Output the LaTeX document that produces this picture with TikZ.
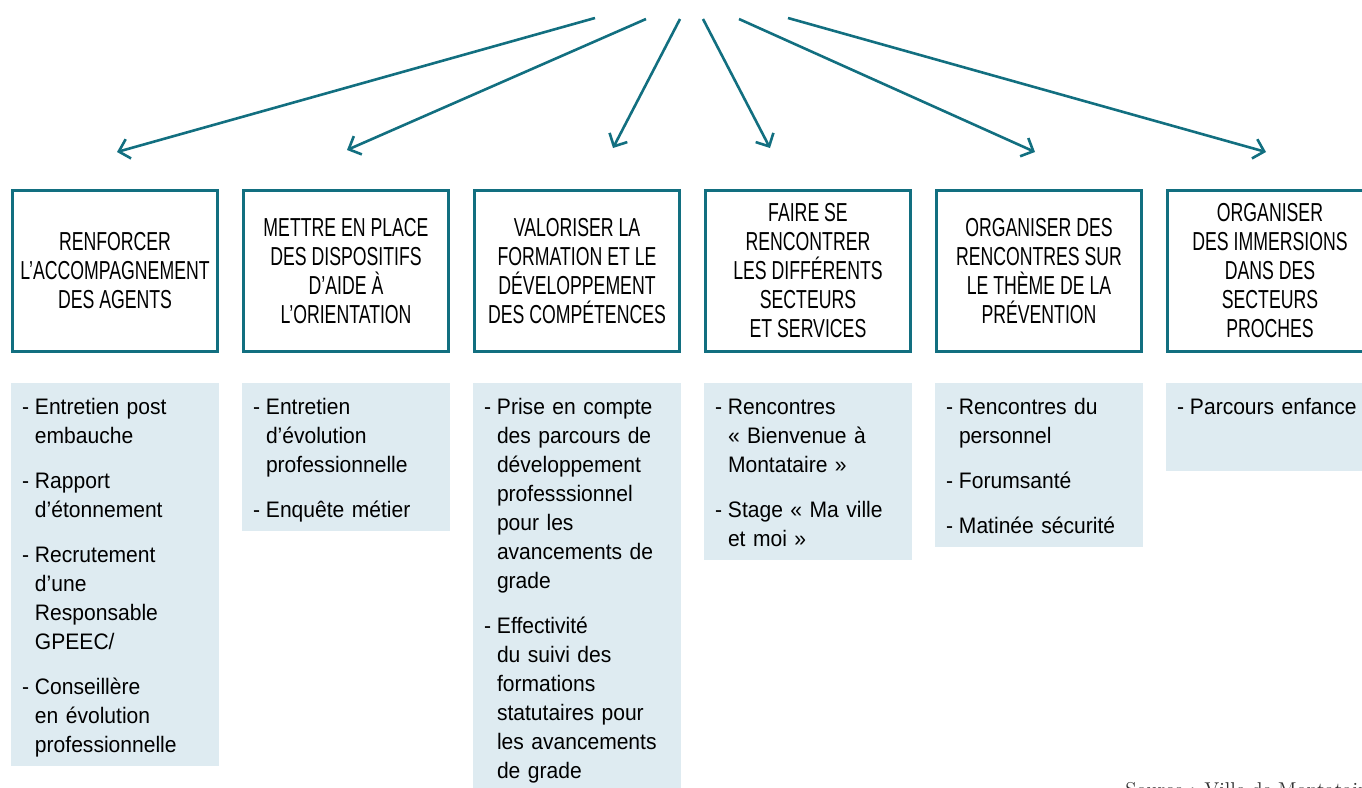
\documentclass[tikz,border=0pt]{standalone}
\usepackage{fontspec}
\usepackage{xcolor}
\usetikzlibrary{positioning,arrows.meta}
\newfontfamily\titrefont[FakeStretch=0.68]{Liberation Sans}
\newfontfamily\textefont[FakeStretch=0.94]{Liberation Sans}
\definecolor{canard}{RGB}{18,111,128}
\definecolor{bleuclair}{RGB}{222,235,241}
% one item of a list, dash with hanging indent
\newcommand{\puce}[1]{{\let\\\newline\noindent\hangindent=6.5pt\hangafter=1\rule{0pt}{11.5pt}\makebox[6.5pt][l]{-}#1\rule[-2.75pt]{0pt}{0pt}\par}}
\newcommand{\ecart}{\vspace{8pt}}

\begin{document}
\begin{tikzpicture}[x=0.5pt,y=-0.5pt,
    titre/.style={draw=canard,line width=1.5pt,fill=white,minimum width=102.5pt,minimum height=80.5pt,align=center,font=\titrefont\fontsize{13pt}{14.5pt}\selectfont},
    corps/.style={fill=bleuclair,outer sep=0pt,inner xsep=5.5pt,inner ysep=4pt,text width=93pt,align=left,font=\textefont\fontsize{11.2pt}{14.5pt}\selectfont},
    fleche/.style={draw=canard,line width=1.3pt,-{Straight Barb[length=5pt,width=10pt]}}]
    \useasboundingbox (0,0) rectangle (1362,788);
    % Arrows from the top
    \foreach \i/\xa/\ya/\xb/\yb in {1/595/18/117/152,2/646/19/347/150,3/680/19/613/148,4/703/19/770/148,5/739/19/1035/152,6/788/18/1266/152} {
        \coordinate (s\i) at (\xa,\ya);
        \coordinate (e\i) at (\xb,\yb);
        \draw[fleche] (s\i) -- (e\i);
    }
    % Headings
    \node[titre] (h1) at (115,271) {RENFORCER\\L’ACCOMPAGNEMENT\\DES AGENTS};
    \node[titre,right=11.5pt of h1] (h2) {METTRE EN PLACE\\DES DISPOSITIFS\\D’AIDE À\\L’ORIENTATION};
    \node[titre,right=11.5pt of h2] (h3) {VALORISER LA\\FORMATION ET LE\\DÉVELOPPEMENT\\DES COMPÉTENCES};
    \node[titre,right=11.5pt of h3] (h4) {FAIRE SE\\RENCONTRER\\LES DIFFÉRENTS\\SECTEURS\\ET SERVICES};
    \node[titre,right=11.5pt of h4] (h5) {ORGANISER DES\\RENCONTRES SUR\\LE THÈME DE LA\\PRÉVENTION};
    \node[titre,right=11.5pt of h5] (h6) {ORGANISER\\DES IMMERSIONS\\DANS DES\\SECTEURS\\PROCHES};
    % Lists
    \node[corps,below=15pt of h1] (b1) {\puce{Entretien post\\embauche}\ecart
        \puce{Rapport\\d’étonnement}\ecart
        \puce{Recrutement\\d’une\\Responsable\\GPEEC/}\ecart
        \puce{Conseillère\\en évolution\\professionnelle}};
    \node[corps,below=15pt of h2] (b2) {\puce{Entretien\\d’évolution\\professionnelle}\ecart
        \puce{Enquête métier}};
    \node[corps,below=15pt of h3] (b3) {\puce{Prise en compte\\des parcours de\\développement\\professsionnel\\pour les\\avancements de\\grade}\ecart
        \puce{Effectivité\\du suivi des\\formations\\statutaires pour\\les avancements\\de grade}};
    \node[corps,below=15pt of h4] (b4) {\puce{Rencontres\\« Bienvenue à\\Montataire »}\ecart
        \puce{Stage « Ma ville\\et moi »}};
    \node[corps,below=15pt of h5] (b5) {\puce{Rencontres du\\personnel}\ecart
        \puce{Forumsanté}\ecart
        \puce{Matinée sécurité}};
    \node[corps,below=15pt of h6] (b6) {\puce{Parcours enfance\rule[-24.5pt]{0pt}{1pt}}};
    % Source
    \node[anchor=base west,inner sep=0pt,text=black!80,font=\fontsize{10pt}{12pt}\selectfont] (src) at (1125,796) {Source : Ville de Montataire};
\end{tikzpicture}
\end{document}
